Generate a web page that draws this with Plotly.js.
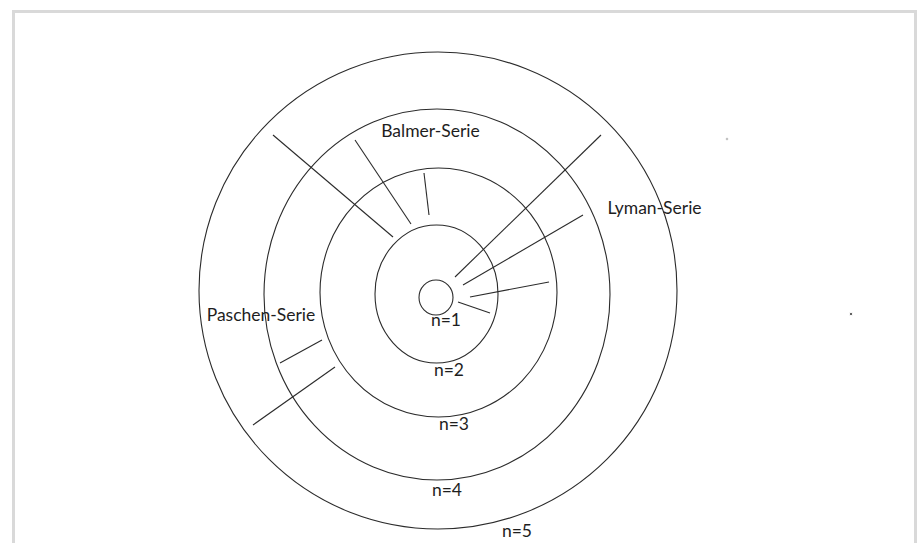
<!DOCTYPE html>
<html>
<head>
<meta charset="utf-8">
<script src="https://cdn.plot.ly/plotly-3.0.1.min.js"></script>
<style>html,body{margin:0;padding:0;background:#fff;overflow:hidden}#chart{width:923px;height:543px}</style>
</head>
<body>
<div id="chart"></div>
<script>
// Orbits (Bohr model shells), in picture units
const orbitLabels = ['n=1', 'n=2', 'n=3', 'n=4', 'n=5'];
const orbitCx = [436, 436.5, 438.5, 437, 438];
const orbitCy = [297.5, 294, 292.5, 294.5, 290.5];
const orbitRx = [17, 61.5, 118.5, 173, 239];
const orbitRy = [17.5, 69, 124.5, 185.5, 238.5];
const orbitLabelX = [446, 449, 454, 447, 517];
const orbitLabelY = [322, 372, 426, 492, 533];

// Series labels
const seriesNames = ['Lyman-Serie', 'Balmer-Serie', 'Paschen-Serie'];
const seriesLabelX = [654.5, 430.5, 261];
const seriesLabelY = [209.5, 133, 317];

// Transition lines (start -> end)
const transSeries = ['Lyman', 'Lyman', 'Lyman', 'Lyman', 'Balmer', 'Balmer', 'Balmer', 'Paschen', 'Paschen'];
const transX0 = [601, 583, 549, 490, 273, 355, 424, 280, 253];
const transY0 = [135, 215, 282, 313, 135, 140, 173, 363, 425];
const transX1 = [455, 463, 470, 458, 393, 411, 429, 322, 335];
const transY1 = [277, 285, 297, 302, 237, 224, 215, 340, 367];

// Stray specks in the drawing
const speckX = [727, 851];
const speckY = [139, 314];

const W = 923, H = 543;
const lineColor = '#2b2b2b';
const fontFam = 'Lato, "Open Sans", sans-serif';
const fontSize = 17.5;

const traces = [];
for (let i = 0; i < transX0.length; i++) {
  traces.push({
    type: 'scatter', mode: 'lines',
    x: [transX0[i], transX1[i]], y: [transY0[i], transY1[i]],
    line: {color: lineColor, width: 1.1},
    hoverinfo: 'skip', showlegend: false, name: transSeries[i]
  });
}
traces.push({
  type: 'scatter', mode: 'markers', x: speckX, y: speckY,
  marker: {color: '#222', size: [2.5, 3.5]}, hoverinfo: 'skip', showlegend: false
});
traces.push({
  type: 'scatter', mode: 'text', x: orbitLabelX, y: orbitLabelY, text: orbitLabels,
  textfont: {family: fontFam, size: fontSize, color: '#1e1e1e'}, textposition: 'middle center',
  hoverinfo: 'skip', showlegend: false
});
traces.push({
  type: 'scatter', mode: 'text', x: seriesLabelX, y: seriesLabelY, text: seriesNames,
  textfont: {family: fontFam, size: fontSize, color: '#1e1e1e'}, textposition: 'middle center',
  hoverinfo: 'skip', showlegend: false
});

const shapes = [];
for (let i = 0; i < orbitCx.length; i++) {
  shapes.push({
    type: 'circle', xref: 'x', yref: 'y', layer: 'below',
    x0: orbitCx[i] - orbitRx[i], x1: orbitCx[i] + orbitRx[i],
    y0: orbitCy[i] - orbitRy[i], y1: orbitCy[i] + orbitRy[i],
    line: {color: lineColor, width: 1.1}
  });
}
// frame
shapes.push({
  type: 'rect', xref: 'paper', yref: 'paper', layer: 'below',
  x0: 13.5 / W, x1: 915.5 / W, y0: -0.05, y1: 1 - 11.5 / H,
  line: {color: '#d9d9d9', width: 3}
});

const layout = {
  width: W, height: H,
  margin: {l: 0, r: 0, t: 0, b: 0},
  paper_bgcolor: '#fff', plot_bgcolor: '#fff',
  xaxis: {range: [0, W], visible: false, fixedrange: true},
  yaxis: {range: [H, 0], visible: false, fixedrange: true},
  shapes: shapes,
  showlegend: false
};

Plotly.newPlot('chart', traces, layout, {staticPlot: true, displayModeBar: false});
</script>
</body>
</html>
